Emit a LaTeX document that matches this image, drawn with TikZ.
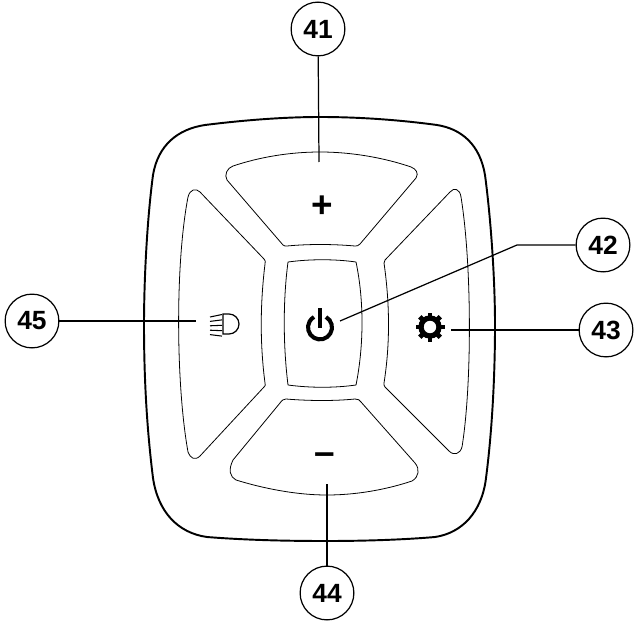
\documentclass[tikz,border=0pt]{standalone}
\usepackage{fontspec}
\setmainfont{Liberation Sans}
\usetikzlibrary{calc}

\tikzset{
  callout/.style={draw,circle,line width=0.7pt,minimum size=30.6pt,inner sep=0pt,font=\fontsize{15}{17}\selectfont\bfseries},
  leader/.style={line width=0.7pt},
  housing/.style={line width=1.1pt},
  button/.style={line width=0.45pt,line join=round},
  symbol/.style={inner sep=0pt,font=\fontsize{21}{23}\selectfont\bfseries}
}

\begin{document}
\begin{tikzpicture}[x=0.02cm,y=-0.02cm]
  % \draw (0, 0) grid (634, 621);
  \useasboundingbox (0,0) rectangle (634,621);

  % housing
  \draw[housing] (205,125) .. controls (245,120) and (285,117) .. (320,117)
    .. controls (360,117) and (400,120) .. (437,125)
    .. controls (462,129) and (480,145) .. (485,175)
    .. controls (491,220) and (495,280) .. (495,325)
    .. controls (495,385) and (491,440) .. (486,478)
    .. controls (482,512) and (462,533) .. (435,537)
    .. controls (400,540) and (360,541) .. (326,541)
    .. controls (285,541) and (245,540) .. (207,537)
    .. controls (178,533) and (158,512) .. (153,478)
    .. controls (147,430) and (144,380) .. (144,325)
    .. controls (144,280) and (147,220) .. (153,175)
    .. controls (158,145) and (178,129) .. (205,125) -- cycle;

  % buttons
  \draw[button] (233,166) .. controls (260,157) and (290,152) .. (320,152)
    .. controls (352,152) and (385,158) .. (411,167)
    .. controls (416,169) and (419,173) .. (416,178)
    -- (360,244) .. controls (358,246) and (357,246) .. (355,246)
    .. controls (332,244) and (308,244) .. (287,246)
    .. controls (285,246) and (284,246) .. (283,245)
    -- (227,180) .. controls (224,175) and (227,168) .. (233,166) -- cycle;
  \draw[button] (200,192) -- (264,259) .. controls (265,260) and (266,262) .. (265,264)
    .. controls (260,305) and (260,345) .. (265,383)
    .. controls (266,385) and (265,386) .. (264,387)
    -- (200,456) .. controls (195,461) and (190,458) .. (188,452)
    .. controls (176,385) and (175,265) .. (188,197)
    .. controls (190,189) and (196,188) .. (200,192) -- cycle;
  \draw[button] (450,192) -- (385,260) .. controls (384,261) and (384,262) .. (384,263)
    .. controls (390,305) and (390,345) .. (384,383)
    .. controls (384,385) and (384,386) .. (385,387)
    -- (449,451) .. controls (454,456) and (460,454) .. (462,447)
    .. controls (472,385) and (472,265) .. (461,197)
    .. controls (460,189) and (454,187) .. (450,192) -- cycle;
  \draw[button] (288,262) .. controls (310,259) and (335,259) .. (356,262)
    .. controls (364,300) and (364,345) .. (356,385)
    .. controls (335,388) and (310,388) .. (288,385)
    .. controls (283,345) and (283,300) .. (288,262) -- cycle;
  \draw[button] (286,399) .. controls (310,401) and (335,401) .. (355,399)
    .. controls (358,399) and (360,400) .. (361,402)
    -- (415,463) .. controls (420,469) and (419,477) .. (412,481)
    .. controls (385,490) and (355,495) .. (327,495)
    .. controls (295,495) and (262,488) .. (236,480)
    .. controls (230,477) and (228,470) .. (233,460)
    -- (280,403) .. controls (282,400) and (284,399) .. (286,399) -- cycle;

  % button symbols
  \node[symbol] (plus) at (322,207) {+};
  \node[symbol] (minus) at (325,459) {–};

  % power
  \draw[line width=2.3pt] (326,317) arc[start angle=-60,end angle=240,radius=12];
  \draw[line width=2.3pt] (320,308) -- (320,328);

  % gear
  \draw[line width=3pt] (430,327) circle (9);
  \foreach \a in {0,45,...,315}
    \draw[line width=2.8pt] ($(430,327)+(\a:9)$) -- ($(430,327)+(\a:14.5)$);

  % headlamp
  \draw[line width=0.7pt] (223,314) -- (229,314) arc[start angle=-90,end angle=90,radius=10] -- (223,334) -- cycle;
  \foreach \i/\d in {0/-2.5,1/-1.5,2/-0.5,3/0.5,4/1.5}
    \draw[line width=0.6pt] (210,317+4.4*\i) -- (222,317+4.4*\i+\d);

  % callouts
  \node[callout] (n41) at (318,29) {41};
  \node[callout] (n42) at (603,245) {42};
  \node[callout] (n43) at (606,330) {43};
  \node[callout] (n44) at (327,593) {44};
  \node[callout] (n45) at (32,321) {45};

  \coordinate (c41) at (319,162);
  \coordinate (k42) at (517,245);
  \coordinate (c42) at (340,321);
  \coordinate (c43) at (451,330);
  \coordinate (c44) at (327,484);
  \coordinate (c45) at (196,321);

  \draw[leader] (n41) -- (c41);
  \draw[leader] (n42) -- (k42) -- (c42);
  \draw[leader] (n43) -- (c43);
  \draw[leader] (n44) -- (c44);
  \draw[leader] (n45) -- (c45);
\end{tikzpicture}
\end{document}
